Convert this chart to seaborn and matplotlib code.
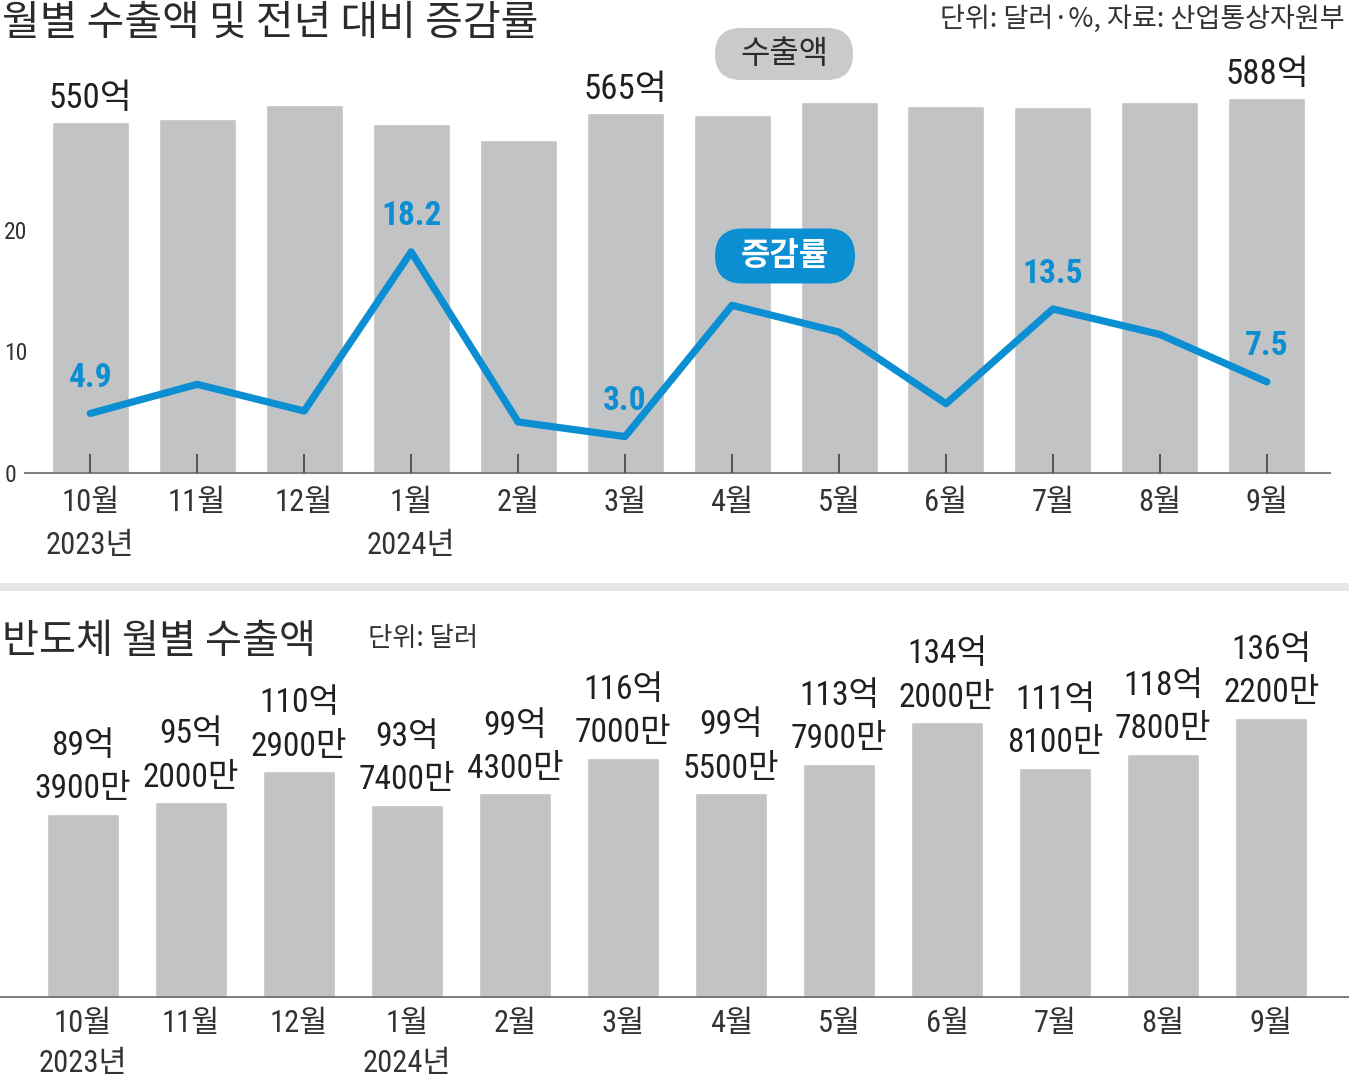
import numpy as np
import pandas as pd
import matplotlib
matplotlib.use("Agg")
import matplotlib.pyplot as plt
import seaborn as sns
from matplotlib import font_manager
from matplotlib.patches import FancyBboxPatch, Rectangle
from matplotlib.transforms import IdentityTransform

# data
months = ["10월", "11월", "12월", "1월", "2월", "3월", "4월", "5월", "6월", "7월", "8월", "9월"]
years = ["2023년", "", "", "2024년", "", "", "", "", "", "", "", ""]
exports = [550, 555, 577, 547, 522, 565, 561, 581, 575, 574, 581, 588]  # 억 달러
growth = [4.9, 7.3, 5.1, 18.2, 4.2, 3.0, 13.8, 11.6, 5.7, 13.5, 11.4, 7.5]  # %
export_labeled = [0, 5, 11]
growth_labeled = [0, 3, 5, 9, 11]
chips = [89.39, 95.20, 110.29, 93.74, 99.43, 116.70, 99.55, 113.79, 134.20, 111.81, 118.78, 136.22]  # 억 달러
growth_ticks = [0, 10, 20]

GRAY = "#c2c3c5"
PILL_GRAY = "#c9cacc"
BLUE = "#0c8ed2"
INK = "#231f20"

W, H = 1349, 1081

sns.set_theme(style="white")
plt.rcParams["font.family"] = ["Noto Sans CJK KR", "DejaVu Sans"]

available = {f.name for f in font_manager.fontManager.ttflist}
NARROW = next((n for n in ["Liberation Sans Narrow", "Roboto Condensed", "DejaVu Sans Condensed",
                           "Open Sans Condensed", "Roboto"] if n in available), "DejaVu Sans")
NUM = [NARROW, "Noto Sans CJK KR"]

df = pd.DataFrame({"month": months, "exports": exports, "growth": growth, "chips": chips})

fig = plt.figure(figsize=(W / 100, H / 100), dpi=100)
fig.patch.set_facecolor("white")


def px_axes(left, top, right, bottom):
    return fig.add_axes([left / W, 1 - bottom / H, (right - left) / W, (bottom - top) / H])


def pill(cx, cy, w, h, text, face, color, weight):
    box = FancyBboxPatch((cx - w / 2, H - cy - h / 2), w, h,
                         boxstyle=f"round,pad=0,rounding_size={h / 2}",
                         transform=IdentityTransform(), fc=face, ec="none")
    fig.add_artist(box)
    fig.text(cx / W, 1 - cy / H, text, ha="center", va="center", fontsize=23,
             color=color, fontweight=weight)


# ---- top panel: exports (bars) + growth rate (line)
ax_bar = px_axes(25, 40, 1330, 473)
sns.barplot(data=df, x="month", y="exports", ax=ax_bar, color=GRAY, saturation=1,
            width=0.72, errorbar=None)
ax_bar.set_ylim(0, 433 / 0.638)
ax_bar.set_axisbelow(False)

ax_line = ax_bar.twinx()
sns.pointplot(data=df, x="month", y="growth", ax=ax_line, color=BLUE, errorbar=None,
              linewidth=5.2, markersize=0, solid_joinstyle="round", solid_capstyle="round")
ax_line.set_ylim(0, 433 / 12.15)
ax_line.xaxis.set_visible(False)
ax_line.yaxis.tick_left()
ax_line.set_yticks(growth_ticks)
ax_line.set_yticklabels([str(t) for t in growth_ticks])
ax_line.tick_params(axis="y", length=0, pad=15, labelsize=17, labelcolor="#333333")
for lbl in ax_line.get_yticklabels():
    lbl.set_horizontalalignment("left")
    lbl.set_fontfamily(NUM)
ax_line.set_ylabel("")
for s in ax_line.spines.values():
    s.set_visible(False)

ax_bar.set_xlim(-0.61, 11.59)
ax_bar.set_yticks([])
ax_bar.set_xlabel("")
ax_bar.set_ylabel("")
ax_bar.set_xticks(range(len(months)))
ax_bar.set_xticklabels([f"{m}\n{y}" if y else m for m, y in zip(months, years)],
                       linespacing=1.6)
ax_bar.tick_params(axis="x", direction="in", length=14, width=1.4, color="#555555",
                   pad=11, labelsize=22, labelcolor="#333333", bottom=True)
for lbl in ax_bar.get_xticklabels():
    lbl.set_fontfamily(NUM)
for side in ["left", "right", "top"]:
    ax_bar.spines[side].set_visible(False)
ax_bar.spines["bottom"].set_color("#808080")
ax_bar.spines["bottom"].set_linewidth(1.5)

ax_bar.bar_label(ax_bar.containers[0],
                 labels=[f"{v}억" if i in export_labeled else "" for i, v in enumerate(exports)],
                 padding=5, fontsize=25, color=INK, family=NUM)

for i in growth_labeled:
    ax_line.annotate(f"{growth[i]:.1f}", (i, growth[i]), xytext=(0, 14),
                     textcoords="offset points", ha="center", va="bottom",
                     fontsize=24, color=BLUE, fontweight="bold", family=NUM)

pill(784, 54, 138, 52, "수출액", PILL_GRAY, "#2b2b2b", "normal")
pill(785, 256, 140, 55, "증감률", BLUE, "white", "bold")

fig.text(2 / W, 1 - 23 / H, "월별 수출액 및 전년 대비 증감률", ha="left", va="center",
         fontsize=29.5, color="#2b2b2b")
fig.text(1345 / W, 1 - 19 / H, "단위: 달러·%, 자료: 산업통상자원부", ha="right", va="center",
         fontsize=19.5, color="#333333")

# separator band
fig.add_artist(Rectangle((0, 1 - 591 / H), 1, 8 / H, transform=fig.transFigure,
                         fc="#e6e7e8", ec="none"))

# ---- bottom panel: semiconductor exports
ax_chip = px_axes(0, 610, 1349, 997)
sns.barplot(data=df, x="month", y="chips", ax=ax_chip, color=GRAY, saturation=1,
            width=0.67, errorbar=None)
ax_chip.set_ylim(0, 387 / 2.05)
ax_chip.set_xlim(-0.77, 11.72)
ax_chip.set_yticks([])
ax_chip.set_xlabel("")
ax_chip.set_ylabel("")
ax_chip.set_xticks(range(len(months)))
ax_chip.set_xticklabels([f"{m}\n{y}" if y else m for m, y in zip(months, years)],
                        linespacing=1.45)
ax_chip.tick_params(axis="x", length=0, pad=9, labelsize=22, labelcolor="#333333")
for lbl in ax_chip.get_xticklabels():
    lbl.set_fontfamily(NUM)
for side in ["left", "right", "top"]:
    ax_chip.spines[side].set_visible(False)
ax_chip.spines["bottom"].set_color("#666666")
ax_chip.spines["bottom"].set_linewidth(1.2)

chip_labels = []
for v in chips:
    man = int(round(v * 10000))
    chip_labels.append(f"{man // 10000}억\n{man % 10000}만")
ax_chip.bar_label(ax_chip.containers[0], labels=chip_labels, padding=6, fontsize=24,
                  color=INK, family=NUM, linespacing=1.45)

fig.text(2 / W, 1 - 642 / H, "반도체 월별 수출액", ha="left", va="center",
         fontsize=29, color="#2b2b2b")
fig.text(368 / W, 1 - 638 / H, "단위: 달러", ha="left", va="center",
         fontsize=19, color="#333333")

fig.savefig("out.png", dpi=100)
